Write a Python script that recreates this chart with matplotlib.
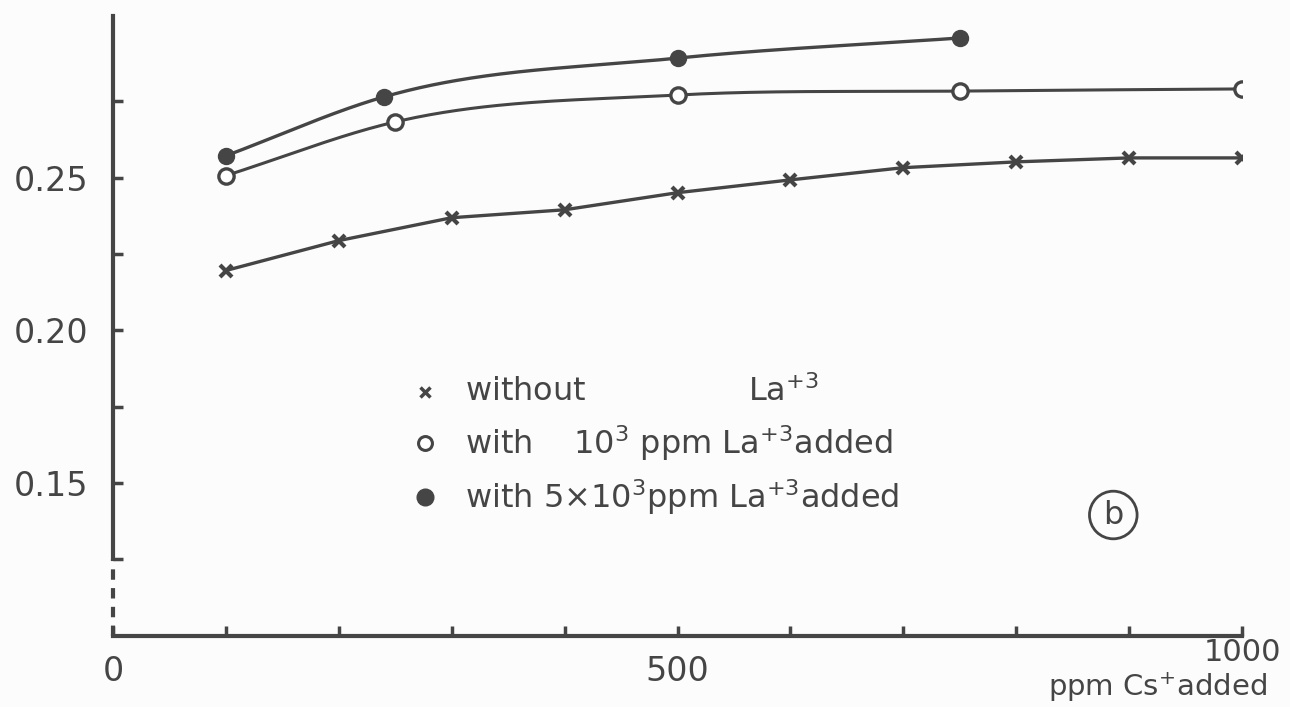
import numpy as np
import matplotlib
matplotlib.use('Agg')
import matplotlib.pyplot as plt

# values
x_without = [100, 200, 300, 400, 500, 600, 700, 800, 900, 1000]
y_without = [0.2196, 0.2294, 0.2369, 0.2395, 0.2451, 0.2493, 0.2533, 0.2552, 0.2565, 0.2565]

x_la1 = [100, 250, 500, 750, 1000]
y_la1 = [0.2507, 0.2683, 0.2771, 0.2784, 0.2791]

x_la5 = [100, 240, 500, 750]
y_la5 = [0.2572, 0.2765, 0.2892, 0.2958]

y_major = [0.15, 0.20, 0.25]
y_major_labels = ['0.15', '0.20', '0.25']
y_minor = [0.125, 0.175, 0.225, 0.275]
x_major = [0, 500]
x_major_labels = ['0', '500']
x_minor = [100, 200, 300, 400, 600, 700, 800, 900, 1000]

INK = '#454545'
PAPER = '#fcfcfc'


def smooth(x, y, n=300):
    # cubic hermite curve through the points, only for drawing the line
    x = np.asarray(x, float)
    y = np.asarray(y, float)
    m = np.gradient(y, x)
    xs = np.linspace(x[0], x[-1], n)
    i = np.clip(np.searchsorted(x, xs) - 1, 0, len(x) - 2)
    h = x[i + 1] - x[i]
    t = (xs - x[i]) / h
    ys = ((2 * t**3 - 3 * t**2 + 1) * y[i] + (t**3 - 2 * t**2 + t) * h * m[i]
          + (-2 * t**3 + 3 * t**2) * y[i + 1] + (t**3 - t**2) * h * m[i + 1])
    return xs, ys


plt.rcParams['font.family'] = ['DejaVu Sans']
fig = plt.figure(figsize=(12.9, 7.07), dpi=100, facecolor=PAPER)
ax = fig.add_axes([113 / 1290, 71.5 / 707, 1129 / 1290, 619.5 / 707])
ax.set_facecolor(PAPER)
ax.set_xlim(0, 1000)
ax.set_ylim(0.10, 0.303)

# curves
ax.plot(x_without, y_without, color=INK, lw=2.4)
ax.plot(*smooth(x_la1, y_la1), color=INK, lw=2.2)
ax.plot(*smooth(x_la5, y_la5), color=INK, lw=2.4)

ax.plot(x_without, y_without, ls='none', marker='x', ms=8, mew=3, color=INK)
ax.plot(x_la1, y_la1, ls='none', marker='o', ms=11, mew=2.4, mfc='white', mec=INK)
ax.plot(x_la5, y_la5, ls='none', marker='o', ms=11.5, mfc=INK, mec=INK)

# axes drawn like the hand-made original
for s in ['top', 'right']:
    ax.spines[s].set_visible(False)
ax.spines['left'].set_bounds(0.125, 0.303)
ax.spines['bottom'].set_bounds(0, 1000)
for s in ['left', 'bottom']:
    ax.spines[s].set_linewidth(3)
    ax.spines[s].set_color(INK)
ax.plot([0, 0], [0.10, 0.125], color=INK, lw=3, ls=(0, (2.5, 2)), clip_on=False)

ax.set_yticks(y_major)
ax.set_yticklabels(y_major_labels)
ax.set_yticks(y_minor, minor=True)
ax.set_xticks(x_major)
ax.set_xticklabels(x_major_labels)
ax.set_xticks(x_minor, minor=True)
ax.tick_params(which='both', direction='in', length=7, width=2.5, color=INK,
               labelcolor=INK, labelsize=24)
ax.tick_params(axis='y', which='major', pad=18)
ax.tick_params(axis='x', which='major', pad=14)

ax.text(1.0, -0.027, '1000', transform=ax.transAxes, ha='center', va='center',
        fontsize=22, color=INK)
ax.text(0.925, -0.083, 'ppm Cs$^{+}$added', transform=ax.transAxes, ha='center',
        va='center', fontsize=21, color=INK)

# legend written into the plot area
mk_x = 0.2764
tx_x = 0.3118
rows = [0.393, 0.311, 0.2236]
ax.plot([mk_x], [rows[0]], transform=ax.transAxes, marker='x', ms=7, mew=2.5,
        color=INK, clip_on=False)
ax.plot([mk_x], [rows[1]], transform=ax.transAxes, marker='o', ms=10, mew=2.2,
        mfc='white', mec=INK, clip_on=False)
ax.plot([mk_x], [rows[2]], transform=ax.transAxes, marker='o', ms=12,
        mfc=INK, mec=INK, clip_on=False)
labels = ['without                La$^{+3}$',
          'with    10$^{3}$ ppm La$^{+3}$added',
          'with 5\u00d710$^{3}$ppm La$^{+3}$added']
for r, lab in zip(rows, labels):
    ax.text(tx_x, r, lab, transform=ax.transAxes, ha='left', va='center',
            fontsize=23, color=INK)

ax.text(0.886, 0.1945, 'b', transform=ax.transAxes, ha='center', va='center',
        fontsize=23, color=INK,
        bbox=dict(boxstyle='circle,pad=0.26', fc='none', ec=INK, lw=2))

fig.savefig('out.png', dpi=100, facecolor=PAPER)
